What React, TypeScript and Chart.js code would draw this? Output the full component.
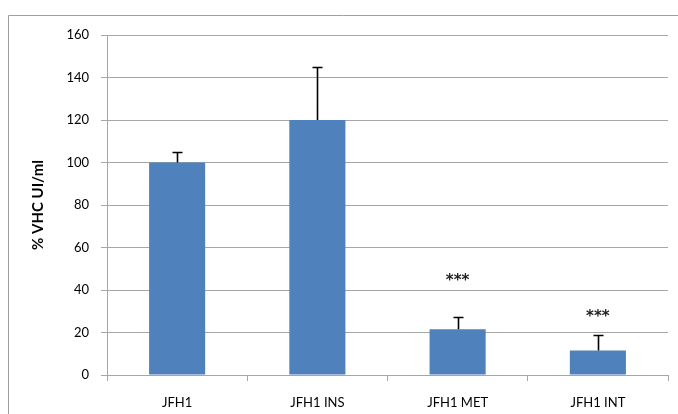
import React, { useEffect, useRef } from "react";
import { Chart, registerables } from "chart.js";

Chart.register(...registerables);

const categories = ["JFH1", "JFH1 INS", "JFH1 MET", "JFH1 INT"];
const values = [100, 120, 21.5, 11.5];
const errors = [5, 25, 6, 7.5];
const starValues: (number | null)[] = [null, null, 46.5, 29.5];
const starLabel = "***";
const yTitle = "% VHC UI/ml";

const FONT = "Lato, 'Liberation Sans', sans-serif";
const GRID = "#a6a6a6";

const extrasPlugin = {
  id: "extras",
  beforeDraw(chart: any) {
    const ctx = chart.ctx;
    ctx.save();
    ctx.strokeStyle = "#a0a0a0";
    ctx.lineWidth = 1;
    ctx.beginPath();
    ctx.moveTo(8.5, chart.height);
    ctx.lineTo(8.5, 15.5);
    ctx.lineTo(chart.width, 15.5);
    ctx.stroke();
    ctx.restore();
  },
  afterDatasetsDraw(chart: any) {
    const ctx = chart.ctx;
    const xs = chart.scales.x;
    const ys = chart.scales.y;
    ctx.save();
    ctx.strokeStyle = "#000";
    ctx.lineWidth = 1.6;
    values.forEach((v, i) => {
      const x = Math.round(xs.getPixelForValue(i)) + 0.5;
      const yb = ys.getPixelForValue(v);
      const yt = Math.round(ys.getPixelForValue(v + errors[i])) + 0.5;
      ctx.beginPath();
      ctx.moveTo(x, yb);
      ctx.lineTo(x, yt);
      ctx.moveTo(x - 5, yt);
      ctx.lineTo(x + 5, yt);
      ctx.stroke();
    });
    ctx.fillStyle = "#222";
    ctx.font = "bold 15px 'DejaVu Sans', sans-serif";
    ctx.textAlign = "center";
    ctx.textBaseline = "alphabetic";
    starValues.forEach((s, i) => {
      if (s == null) return;
      ctx.fillText(starLabel, xs.getPixelForValue(i), ys.getPixelForValue(s) + 9);
    });
    ctx.restore();
  },
};

export default function App() {
  const ref = useRef<HTMLCanvasElement | null>(null);
  useEffect(() => {
    if (!ref.current) return;
    const chart = new Chart(ref.current, {
      type: "bar",
      data: {
        labels: categories,
        datasets: [
          {
            data: values,
            backgroundColor: "#4f81bd",
            borderWidth: 0,
            barPercentage: 0.4,
            categoryPercentage: 1,
          },
        ],
      },
      options: {
        animation: false,
        responsive: false,
        devicePixelRatio: 1,
        layout: { padding: { left: 0, top: 35, right: 10, bottom: 0 } },
        plugins: { legend: { display: false }, tooltip: { enabled: false } },
        scales: {
          x: {
            afterFit: (s: any) => {
              s.height = 39;
            },
            grid: {
              offset: true,
              drawOnChartArea: false,
              drawTicks: true,
              tickLength: 6,
              color: GRID,
            },
            border: { color: GRID },
            ticks: { color: "#000", font: { family: FONT, size: 13 }, padding: 14 },
          },
          y: {
            min: 0,
            max: 160,
            afterFit: (s: any) => {
              s.width = 107;
            },
            ticks: { stepSize: 20, color: "#000", font: { family: FONT, size: 13 }, padding: 12 },
            grid: { color: GRID, tickLength: 6, drawTicks: true, tickColor: GRID },
            border: { color: GRID },
            title: {
              display: true,
              text: yTitle,
              color: "#000",
              font: { family: FONT, size: 15, weight: "bold" },
              padding: { top: 29, bottom: 0 },
            },
          },
        },
      },
      plugins: [extrasPlugin],
    });
    return () => chart.destroy();
  }, []);
  return (
    <canvas
      ref={ref}
      width={678}
      height={414}
      style={{ position: "fixed", left: 0, top: 0, width: 678, height: 414, background: "#fff" }}
    />
  );
}
